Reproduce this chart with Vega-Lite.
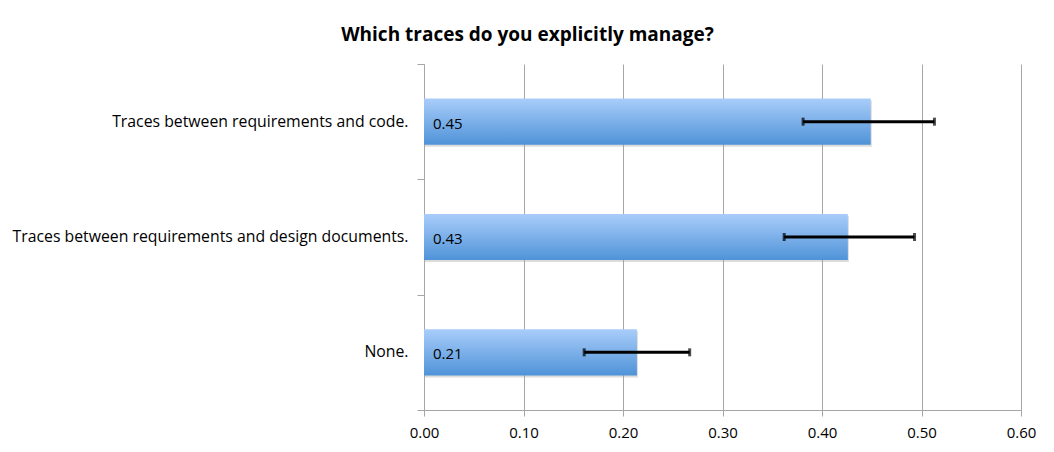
{
  "$schema": "https://vega.github.io/schema/vega-lite/v6.json",
  "width": 597,
  "height": 346,
  "autosize": "none",
  "padding": {"left": 424, "top": 64, "right": 33, "bottom": 42},
  "background": "white",
  "title": {
    "text": "Which traces do you explicitly manage?",
    "font": "Open Sans",
    "fontSize": 19,
    "fontWeight": "bold",
    "color": "black",
    "anchor": "middle",
    "dx": -195,
    "offset": 19
  },
  "config": {
    "view": {"stroke": null},
    "axis": {"labelFont": "Open Sans", "labelColor": "black", "titleFont": "Open Sans"}
  },
  "data": {
    "values": [
      {"cat": "Traces between requirements and code.", "value": 0.449, "lo": 0.381, "hi": 0.513},
      {"cat": "Traces between requirements and design documents.", "value": 0.426, "lo": 0.362, "hi": 0.493},
      {"cat": "None.", "value": 0.214, "lo": 0.161, "hi": 0.267}
    ]
  },
  "resolve": {"scale": {"y": "independent"}, "axis": {"y": "independent"}},
  "layer": [
    {
      "encoding": {
        "y": {
          "field": "cat", "type": "nominal", "sort": null,
          "scale": {"paddingInner": 0.6, "paddingOuter": 0.3},
          "axis": {"title": null, "ticks": false, "domain": false, "labelPadding": 16, "labelFontSize": 15.8, "labelLimit": 500}
        }
      },
      "layer": [
        {
          "mark": {"type": "bar", "color": "#9a9a9a", "opacity": 0.35, "xOffset": 1, "yOffset": 2},
          "encoding": {
            "x": {"field": "value", "type": "quantitative", "scale": {"domain": [0, 0.6]},
              "axis": {"title": null, "format": ".2f", "values": [0, 0.1, 0.2, 0.3, 0.4, 0.5, 0.6], "labelFlush": false, "grid": true, "gridColor": "#a6a6a6", "gridOpacity": 1, "domainColor": "#a6a6a6", "tickColor": "#a6a6a6", "tickSize": 6, "labelFontSize": 15, "labelPadding": 9}}
          }
        },
        {
          "mark": {"type": "bar", "color": {"gradient": "linear", "x1": 0, "y1": 0, "x2": 0, "y2": 1, "stops": [{"offset": 0, "color": "#a9cdfa"}, {"offset": 1, "color": "#4f93d8"}]}},
          "encoding": {"x": {"field": "value", "type": "quantitative"}}
        },
        {
          "mark": {"type": "text", "align": "left", "dx": 9, "dy": 2, "font": "Open Sans", "fontSize": 15, "color": "black"},
          "encoding": {
            "x": {"datum": 0, "type": "quantitative"},
            "text": {"field": "value", "type": "quantitative", "format": ".2f"}
          }
        }
      ]
    },
    {
      "encoding": {
        "y": {
          "field": "cat", "type": "nominal", "sort": null,
          "scale": {"paddingInner": 0, "paddingOuter": 0},
          "axis": {"title": null, "labels": false, "domain": true, "domainColor": "#a6a6a6", "grid": false, "tickBand": "extent", "tickSize": 7, "tickColor": "#a6a6a6", "orient": "left"}
        }
      },
      "layer": [
        {
          "mark": {"type": "rule", "color": "black", "strokeWidth": 3},
          "encoding": {"x": {"field": "lo", "type": "quantitative"}, "x2": {"field": "hi"}}
        },
        {
          "mark": {"type": "tick", "color": "black", "thickness": 3, "size": 8},
          "encoding": {"x": {"field": "lo", "type": "quantitative"}}
        },
        {
          "mark": {"type": "tick", "color": "black", "thickness": 3, "size": 8},
          "encoding": {"x": {"field": "hi", "type": "quantitative"}}
        }
      ]
    }
  ]
}
